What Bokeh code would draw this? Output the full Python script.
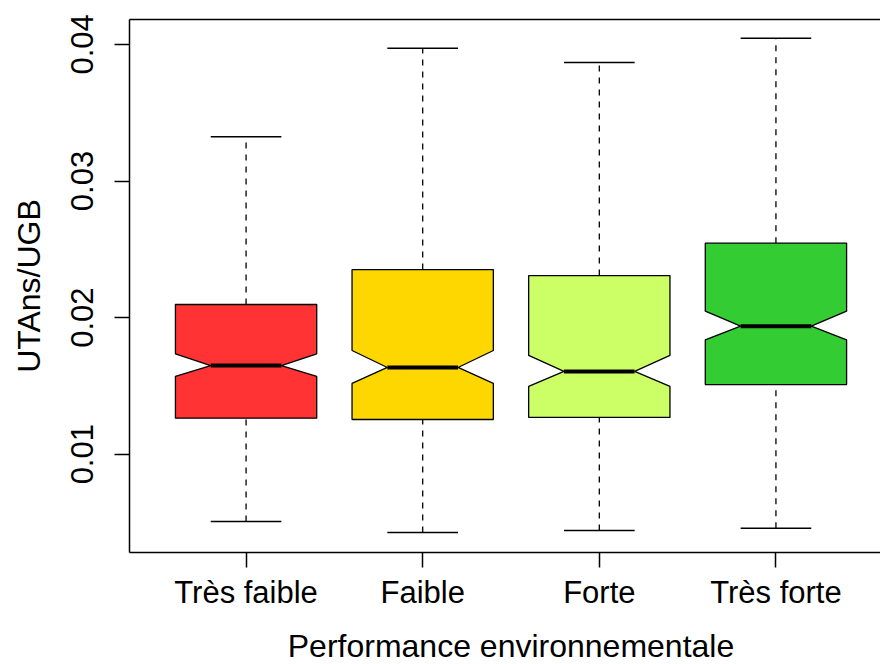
from bokeh.plotting import figure
from bokeh.models import Range1d, FixedTicker, LinearAxis, ColumnDataSource, Label
from bokeh.layouts import column
from bokeh.embed import file_html
from bokeh.resources import INLINE

# Five-number summaries and notch bounds per group
categories = ["Très faible", "Faible", "Forte", "Très forte"]
lower = [0.00507, 0.00427, 0.00441, 0.00458]
q1 = [0.01264, 0.01254, 0.01269, 0.01510]
notch_lo = [0.01569, 0.01518, 0.01496, 0.01837]
median = [0.01649, 0.01635, 0.01606, 0.01937]
notch_hi = [0.01735, 0.01759, 0.01723, 0.02047]
q3 = [0.02096, 0.02352, 0.02308, 0.02545]
upper = [0.03324, 0.03972, 0.03868, 0.04045]
colors = ["#FF3333", "#FFD700", "#CCFF66", "#33CC33"]

y_ticks = [0.01, 0.02, 0.03, 0.04]
y_tick_labels = ["0.01", "0.02", "0.03", "0.04"]

x_title = "Performance environnementale"
y_title = "UTAns/UGB"

FONT = "Liberation Sans"
TICK_FS = "31px"
TITLE_FS = "32px"
half = 0.4      # half box width
nh = 0.2        # half notch / median width

pos = [i + 1 for i in range(len(categories))]
x_range = Range1d(0.34, 4.592)

p = figure(width=880, height=624, output_backend="svg", toolbar_location=None,
           x_range=x_range, y_range=Range1d(0.0028038, 0.041824),
           min_border_left=129, min_border_right=0, min_border_top=19,
           min_border_bottom=72)
p.outline_line_color = None
p.grid.visible = False
p.background_fill_color = "white"
p.border_fill_color = "white"

# notched box outlines
xs, ys = [], []
for i, x in enumerate(pos):
    xs.append([x - half, x - half, x - nh, x - half, x - half,
               x + half, x + half, x + nh, x + half, x + half])
    ys.append([q1[i], notch_lo[i], median[i], notch_hi[i], q3[i],
               q3[i], notch_hi[i], median[i], notch_lo[i], q1[i]])

src = ColumnDataSource(dict(
    x=pos, lower=lower, q1=q1, median=median, q3=q3, upper=upper,
    xl=[x - nh for x in pos], xr=[x + nh for x in pos],
))

# whiskers and staples
p.segment(x0="x", y0="q3", x1="x", y1="upper", source=src,
          line_color="black", line_width=1.3, line_dash="6 6")
p.segment(x0="x", y0="lower", x1="x", y1="q1", source=src,
          line_color="black", line_width=1.3, line_dash="6 6")
p.segment(x0="xl", y0="upper", x1="xr", y1="upper", source=src,
          line_color="black", line_width=1.5)
p.segment(x0="xl", y0="lower", x1="xr", y1="lower", source=src,
          line_color="black", line_width=1.5)

p.patches(xs=xs, ys=ys, fill_color=colors, line_color="black", line_width=1.3)

# medians
p.segment(x0="xl", y0="median", x1="xr", y1="median", source=src,
          line_color="black", line_width=4)

# x axis
xa = p.xaxis[0]
xa.ticker = FixedTicker(ticks=pos)
xa.major_label_overrides = {x: c for x, c in zip(pos, categories)}

# y axis
ya = p.yaxis[0]
ya.ticker = FixedTicker(ticks=y_ticks)
ya.major_label_overrides = {t: s for t, s in zip(y_ticks, y_tick_labels)}
ya.major_label_orientation = "vertical"
ya.axis_label = y_title

for ax in (xa, ya):
    ax.axis_line_color = "black"
    ax.axis_line_width = 1.5
    ax.major_tick_line_color = "black"
    ax.major_tick_line_width = 1.5
    ax.major_tick_out = 15
    ax.major_tick_in = 0
    ax.minor_tick_out = 0
    ax.minor_tick_in = 0
    ax.major_label_text_font = FONT
    ax.major_label_text_font_size = TICK_FS
    ax.major_label_text_color = "black"
    ax.axis_label_text_font = FONT
    ax.axis_label_text_font_size = TITLE_FS
    ax.axis_label_text_font_style = "normal"
    ax.axis_label_text_color = "black"

xa.major_label_standoff = 7
ya.major_label_standoff = 21
ya.axis_label_standoff = 22

# top border line of the frame
top = LinearAxis(ticker=FixedTicker(ticks=[]), major_label_text_font_size="0px",
                 major_tick_out=0, major_tick_in=0, minor_tick_out=0, minor_tick_in=0,
                 axis_line_color="black", axis_line_width=1.5)
p.add_layout(top, "above")

# strip below the plot carrying the x-axis title, sharing the x scale
t = figure(width=880, height=40, output_backend="svg", toolbar_location=None,
           x_range=x_range, y_range=Range1d(0, 40),
           x_axis_location=None, y_axis_location=None,
           min_border_left=129, min_border_right=0, min_border_top=0,
           min_border_bottom=0)
t.outline_line_color = None
t.grid.visible = False
t.background_fill_color = "white"
t.border_fill_color = "white"
t.add_layout(Label(x=2.5, y=19, text=x_title, text_align="center",
                   text_baseline="middle", text_font=FONT,
                   text_font_size=TITLE_FS, text_color="black"))

layout = column(p, t, spacing=0)
open("out.html", "w").write(file_html(layout, INLINE))
